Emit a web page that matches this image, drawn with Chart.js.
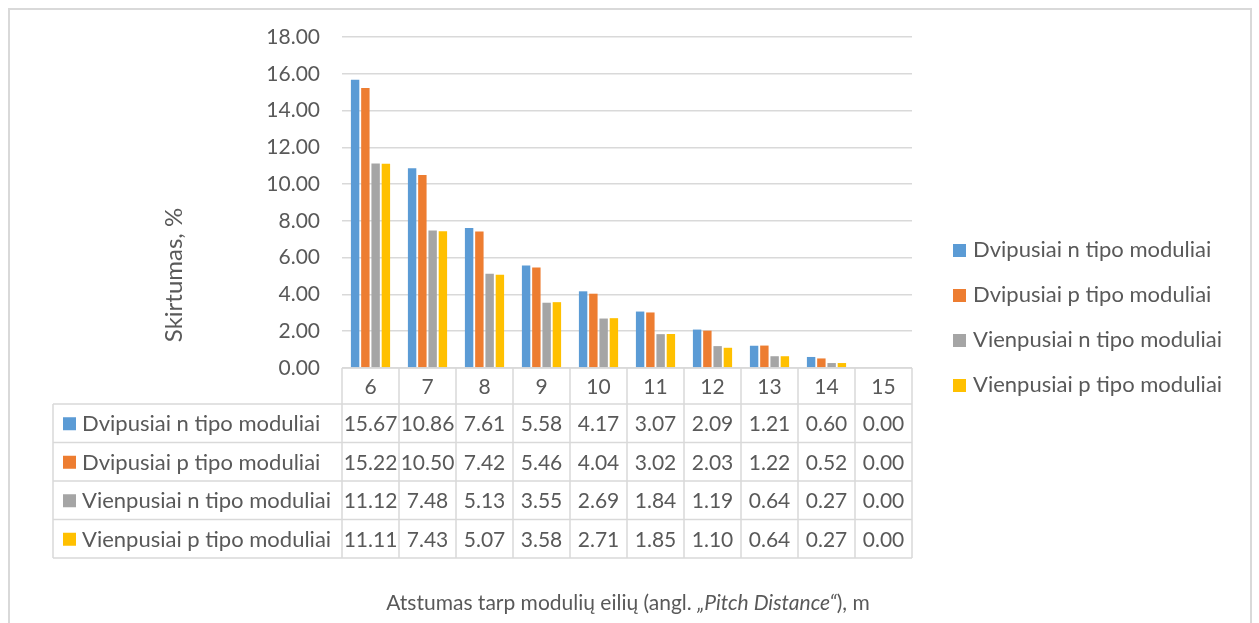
<!DOCTYPE html>
<html>
<head>
<meta charset="utf-8">
<script src="https://cdn.jsdelivr.net/npm/chart.js@4/dist/chart.umd.min.js"></script>
<style>
  html, body { margin: 0; padding: 0; background: #fff; }
  #wrap { width: 1259px; height: 623px; position: relative; }
</style>
</head>
<body>
<div id="wrap"><canvas id="chart" width="1259" height="623"></canvas></div>
<script>
// data
const categories = ['6', '7', '8', '9', '10', '11', '12', '13', '14', '15'];
const seriesNames = [
    'Dvipusiai n tipo moduliai',
    'Dvipusiai p tipo moduliai',
    'Vienpusiai n tipo moduliai',
    'Vienpusiai p tipo moduliai',
];
const dvipusiaiN = [15.67, 10.86, 7.61, 5.58, 4.17, 3.07, 2.09, 1.21, 0.60, 0.00];
const dvipusiaiP = [15.22, 10.50, 7.42, 5.46, 4.04, 3.02, 2.03, 1.22, 0.52, 0.00];
const vienpusiaiN = [11.12, 7.48, 5.13, 3.55, 2.69, 1.84, 1.19, 0.64, 0.27, 0.00];
const vienpusiaiP = [11.11, 7.43, 5.07, 3.58, 2.71, 1.85, 1.10, 0.64, 0.27, 0.00];
const yMin = 0, yMax = 18, yStep = 2;

const colors = ['#5B9BD5', '#ED7D31', '#A5A5A5', '#FFC000'];
const values = [dvipusiaiN, dvipusiaiP, vienpusiaiN, vienpusiaiP];
const textColor = '#595959';
const lineColor = '#d9d9d9';
const FONT = 'Lato, "Open Sans", sans-serif';

// data table + legend + titles, drawn after the bars
const extras = {
    id: 'extras',
    afterDraw(chart) {
        const ctx = chart.ctx;
        const x = chart.scales.x;
        const area = chart.chartArea;
        const half = (x.getPixelForValue(1) - x.getPixelForValue(0)) / 2;
        const left = x.getPixelForValue(0) - half;
        const right = x.getPixelForValue(categories.length - 1) + half;
        const tableLeft = 53;
        const rows = [area.bottom, 404, 442.5, 481, 519.5, 558];

        ctx.save();
        // outer frame
        ctx.strokeStyle = lineColor;
        ctx.lineWidth = 2;
        ctx.beginPath();
        ctx.moveTo(9, 640);
        ctx.lineTo(9, 9);
        ctx.lineTo(1251, 9);
        ctx.lineTo(1251, 640);
        ctx.stroke();

        // table lines
        ctx.lineWidth = 1.5;
        ctx.beginPath();
        ctx.moveTo(left, rows[0]);
        ctx.lineTo(right, rows[0]);
        for (let r = 1; r < rows.length; r++) {
            ctx.moveTo(tableLeft, rows[r]);
            ctx.lineTo(right, rows[r]);
        }
        for (let i = 0; i <= categories.length; i++) {
            const cx = left + i * half * 2;
            ctx.moveTo(cx, rows[0]);
            ctx.lineTo(cx, rows[rows.length - 1]);
        }
        ctx.moveTo(tableLeft, rows[1]);
        ctx.lineTo(tableLeft, rows[rows.length - 1]);
        ctx.stroke();

        // header and numbers
        ctx.fillStyle = textColor;
        ctx.font = '21px ' + FONT;
        ctx.textAlign = 'center';
        ctx.textBaseline = 'middle';
        categories.forEach((c, i) => {
            ctx.fillText(c, x.getPixelForValue(i), (rows[0] + rows[1]) / 2 + 1);
        });
        values.forEach((arr, s) => {
            const cy = (rows[s + 1] + rows[s + 2]) / 2 + 1;
            ctx.font = '21px ' + FONT;
            ctx.textAlign = 'center';
            arr.forEach((v, i) => {
                ctx.fillText(v.toFixed(2), x.getPixelForValue(i), cy);
            });
            ctx.fillStyle = colors[s];
            ctx.fillRect(63, cy - 7, 13, 13);
            ctx.fillStyle = textColor;
            ctx.textAlign = 'left';
            ctx.font = '22px ' + FONT;
            ctx.fillText(seriesNames[s], 82, cy);
        });

        // legend on the right
        ctx.textAlign = 'left';
        ctx.font = '22px ' + FONT;
        seriesNames.forEach((name, s) => {
            const cy = 250 + s * 45;
            ctx.fillStyle = colors[s];
            ctx.fillRect(953, cy - 6, 13, 13);
            ctx.fillStyle = textColor;
            ctx.fillText(name, 973, cy);
        });

        // y axis title
        ctx.save();
        ctx.font = '24px ' + FONT;
        ctx.translate(174, 275);
        ctx.rotate(-Math.PI / 2);
        ctx.textAlign = 'center';
        ctx.fillText('Skirtumas, %', 0, 0);
        ctx.restore();

        // x axis title with italic part
        const parts = [
            ['Atstumas tarp modulių eilių (angl. ', ''],
            ['„Pitch Distance“', 'italic '],
            ['), m', ''],
        ];
        let total = 0;
        parts.forEach(p => {
            ctx.font = p[1] + '21px ' + FONT;
            total += ctx.measureText(p[0]).width;
        });
        let px = 628 - total / 2;
        ctx.textAlign = 'left';
        parts.forEach(p => {
            ctx.font = p[1] + '21px ' + FONT;
            ctx.fillText(p[0], px, 603);
            px += ctx.measureText(p[0]).width;
        });
        ctx.restore();
    },
};

const yTicks = [];
for (let v = yMin; v <= yMax; v += yStep) yTicks.push(v);

new Chart(document.getElementById('chart').getContext('2d'), {
    type: 'bar',
    data: {
        labels: categories,
        datasets: values.map((arr, s) => ({
            label: seriesNames[s],
            data: arr,
            backgroundColor: colors[s],
            categoryPercentage: 0.72,
            barPercentage: 0.82,
        })),
    },
    options: {
        responsive: false,
        animation: false,
        layout: { padding: { left: 0, right: 347, top: 37, bottom: 255 } },
        plugins: {
            legend: { display: false },
            tooltip: { enabled: false },
        },
        scales: {
            x: { display: false },
            y: {
                min: yMin,
                max: yMax,
                afterFit(scale) { scale.width = 342; },
                afterBuildTicks(scale) { scale.ticks = yTicks.map(v => ({ value: v })); },
                border: { display: false },
                grid: { color: lineColor, lineWidth: 1.5, drawTicks: false },
                ticks: {
                    padding: 22,
                    color: textColor,
                    font: { family: FONT, size: 21 },
                    callback: v => v.toFixed(2),
                },
            },
        },
    },
    plugins: [extras],
});
</script>
</body>
</html>
